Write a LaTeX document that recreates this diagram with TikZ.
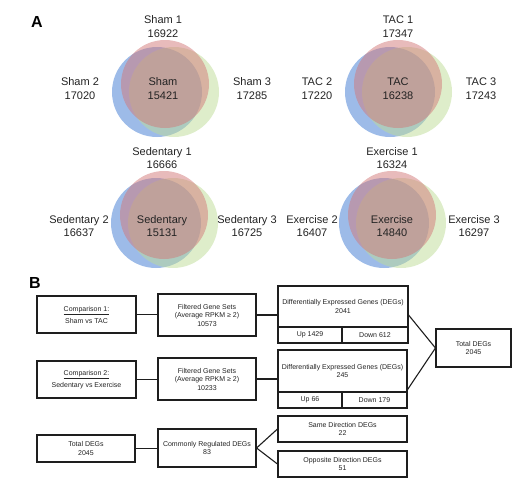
\documentclass[tikz,border=0pt]{standalone}
\usepackage{fontspec}
\setmainfont{Liberation Sans}
\usetikzlibrary{calc}
\definecolor{vred}{RGB}{210,120,120}
\definecolor{vblue}{RGB}{60,120,210}
\definecolor{vgreen}{RGB}{190,220,150}
\definecolor{lin}{RGB}{30,30,30}
\definecolor{txt}{RGB}{35,35,35}
\tikzset{
  box/.style={draw=lin, line width=1.1pt, inner sep=0pt, align=center, text=txt, font=\fontsize{7}{8.5}\selectfont},
  cmpbox/.style={box, font=\fontsize{7}{12}\selectfont},
  conn/.style={draw=lin, line width=1.1pt},
  vlab/.style={align=center, inner sep=0pt, text=txt, font=\fontsize{11}{14}\selectfont},
  vlabb/.style={align=center, inner sep=0pt, text=txt, font=\fontsize{11}{13}\selectfont},
  panel/.style={inner sep=0pt, font=\fontsize{16}{16}\selectfont\bfseries},
  vb/.style={fill=vblue, fill opacity=0.5},
  vg/.style={fill=vgreen, fill opacity=0.5},
  vr/.style={fill=vred, fill opacity=0.5}
}
\newcommand{\venn}[2]{%
  \fill[vb] (#1-8,#2+8) circle (45);
  \fill[vg] (#1+9,#2+8) circle (45);
  \fill[vr] (#1,#2) circle (44);
}
\begin{document}
\begin{tikzpicture}[x=1pt,y=-1pt]
\useasboundingbox (0,0) rectangle (530,490);
\node[panel] (A) at (37,22) {A};
\node[panel] (B) at (35,283) {B};
% Venn diagrams
\venn{165}{84}
\venn{398}{84}
\venn{164}{215}
\venn{392}{215}
\node[vlab] (s1) at (163,26.3) {Sham 1\\16922};
\node[vlab] (s2) at (80,89) {Sham 2\\17020};
\node[vlab] (s3) at (252,89) {Sham 3\\17285};
\node[vlab] (s0) at (163,89) {Sham\\15421};
\node[vlab] (t1) at (398,27) {TAC 1\\17347};
\node[vlab] (t2) at (317,89) {TAC 2\\17220};
\node[vlab] (t3) at (481,89) {TAC 3\\17243};
\node[vlab] (t0) at (398,89) {TAC\\16238};
\node[vlabb] (se1) at (162,158) {Sedentary 1\\16666};
\node[vlabb] (se2) at (79,226.5) {Sedentary 2\\16637};
\node[vlabb] (se3) at (247,226.5) {Sedentary 3\\16725};
\node[vlabb] (se0) at (162,226.5) {Sedentary\\15131};
\node[vlabb] (e1) at (392,158) {Exercise 1\\16324};
\node[vlabb] (e2) at (312,226.5) {Exercise 2\\16407};
\node[vlabb] (e3) at (474,226.5) {Exercise 3\\16297};
\node[vlabb] (e0) at (392,226.5) {Exercise\\14840};
% Flow chart
\node[cmpbox, minimum width=99, minimum height=37] (c1) at (86.5,314.5) {\underline{Comparison 1:}\\Sham vs TAC};
\node[box, minimum width=98, minimum height=42] (f1) at (207,315) {Filtered Gene Sets\\(Average RPKM ≥ 2)\\10573};
\node[box, minimum width=130, minimum height=41] (d1) at (343,306.5) {Differentially Expressed Genes (DEGs)\\2041};
\node[box, minimum width=64, minimum height=16] (u1) at (310,335) {Up 1429};
\node[box, minimum width=66, minimum height=16] (n1) at (375,335) {Down 612};
\node[cmpbox, minimum width=99, minimum height=37] (c2) at (86.5,379.5) {\underline{Comparison 2:}\\Sedentary vs Exercise};
\node[box, minimum width=98, minimum height=42] (f2) at (207,379) {Filtered Gene Sets\\(Average RPKM ≥ 2)\\10233};
\node[box, minimum width=129, minimum height=42] (d2) at (342.5,371) {Differentially Expressed Genes (DEGs)\\245};
\node[box, minimum width=64, minimum height=16] (u2) at (310,400) {Up 66};
\node[box, minimum width=65, minimum height=16] (n2) at (374.5,400) {Down 179};
\node[box, minimum width=75, minimum height=38] (tot) at (473.5,348) {Total DEGs\\2045};
\node[box, minimum width=98, minimum height=27] (td) at (86,448.5) {Total DEGs\\2045};
\node[box, minimum width=98, minimum height=38] (cr) at (207,448) {Commonly Regulated DEGs\\83};
\node[box, minimum width=129, minimum height=26] (sd) at (342.5,429) {Same Direction DEGs\\22};
\node[box, minimum width=129, minimum height=26] (od) at (342.5,464) {Opposite Direction DEGs\\51};
\draw[conn] (c1.east) -- (c1.east -| f1.west);
\draw[conn] (f1.east) -- (f1.east -| d1.west);
\draw[conn] (c2.east) -- (c2.east -| f2.west);
\draw[conn] (f2.east) -- (f2.east -| d2.west);
\draw[conn] ($(d1.east)+(0,8.5)$) -- (tot.west);
\draw[conn] ($(d2.south east)+(0,-3)$) -- (tot.west);
\draw[conn] (td.east) -- (td.east -| cr.west);
\draw[conn] (cr.east) -- (sd.west);
\draw[conn] (cr.east) -- (od.west);
\end{tikzpicture}
\end{document}
